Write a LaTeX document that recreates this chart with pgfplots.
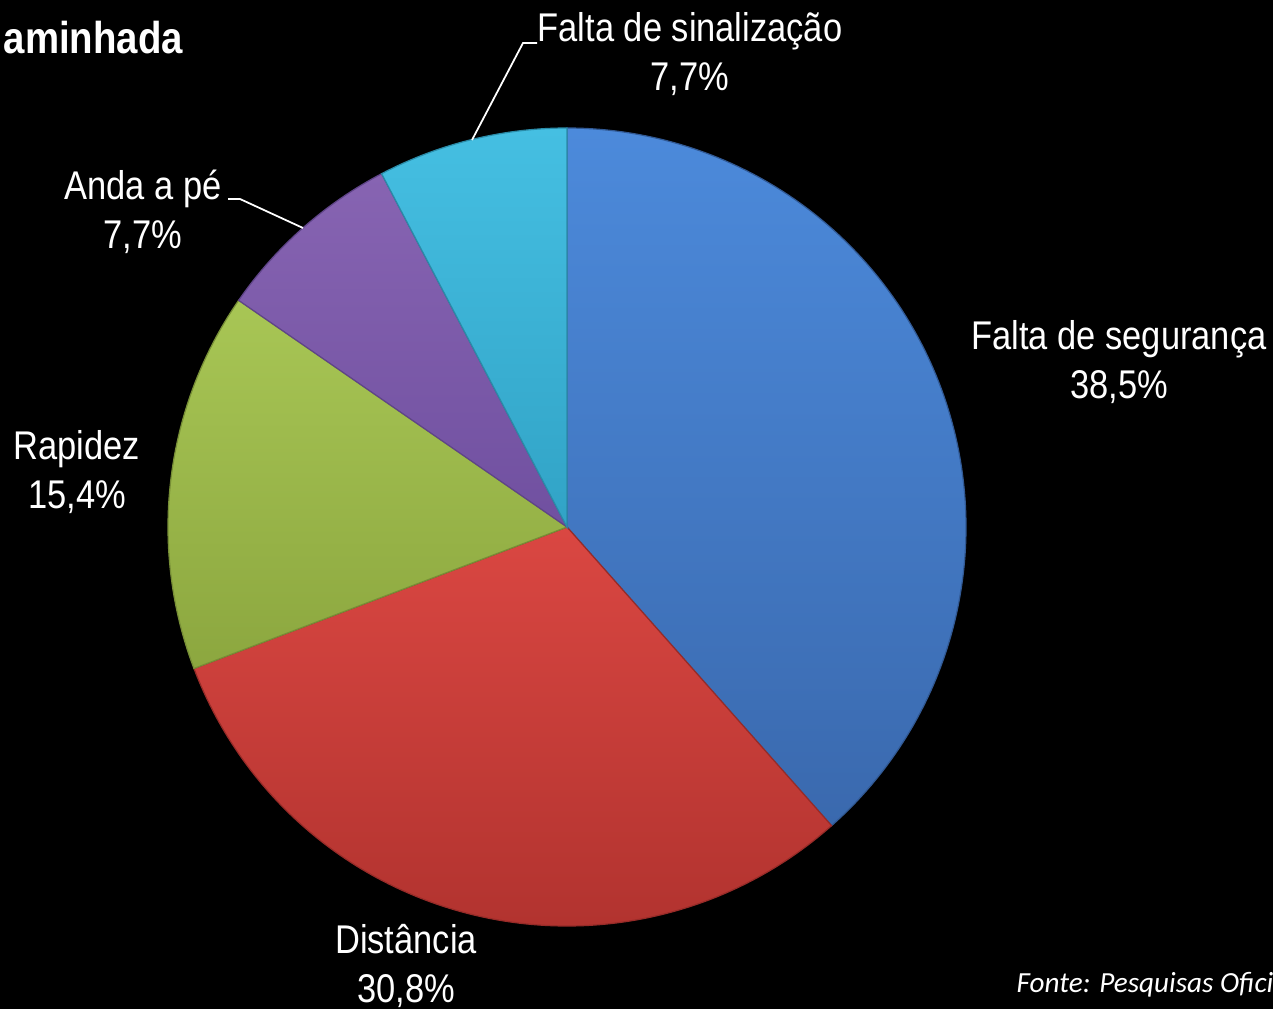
\documentclass[border=0pt]{standalone}
\usepackage{pgfplots}
\pgfplotsset{compat=1.18}
\usepackage{fontspec}
\setmainfont{Liberation Sans}[FakeStretch=0.86]
\newfontfamily\calib{Carlito}

\definecolor{segTop}{HTML}{4C8ADB}\definecolor{segBot}{HTML}{3A69AE}
\definecolor{disTop}{HTML}{DA4742}\definecolor{disBot}{HTML}{B2332F}
\definecolor{rapTop}{HTML}{A8C655}\definecolor{rapBot}{HTML}{8CA73F}
\definecolor{andTop}{HTML}{8764B2}\definecolor{andBot}{HTML}{7050A0}
\definecolor{sinTop}{HTML}{45BFE2}\definecolor{sinBot}{HTML}{31A3C6}

\tikzset{lbl/.style={text=white, align=center, inner sep=0pt, font=\fontsize{11.4}{13.9}\selectfont}}

% shares (%), clockwise from 12 o'clock
\def\vSeg{38.5}\def\vDis{30.8}\def\vRap{15.4}\def\vAnd{7.7}\def\vSin{7.7}
\pgfmathsetmacro\k{360/(\vSeg+\vDis+\vRap+\vAnd+\vSin)}
\pgfmathsetmacro\aA{90}
\pgfmathsetmacro\aB{\aA-\k*\vSeg}
\pgfmathsetmacro\aC{\aB-\k*\vDis}
\pgfmathsetmacro\aD{\aC-\k*\vRap}
\pgfmathsetmacro\aE{\aD-\k*\vAnd}
\pgfmathsetmacro\aF{\aE-\k*\vSin}

\begin{document}
\begin{tikzpicture}
\clip (0,0) rectangle (12.73cm,10.09cm);
\fill[black] (0,0) rectangle (12.73cm,10.09cm);
\begin{axis}[
  at={(0,0)}, anchor=origin,
  x=0.1mm, y=0.1mm,
  xmin=0, xmax=1273, ymin=0, ymax=1009,
  hide axis, clip=false,
  every axis plot/.append style={samples=120, variable=\t, line width=0.35pt},
]
\addplot[domain=\aB:\aA, top color=segTop, bottom color=segBot, draw=segBot!85!black]
  ({567+399*cos(\t)},{482+399*sin(\t)}) -- (567,482) -- cycle;
\addplot[domain=\aC:\aB, top color=disTop, bottom color=disBot, draw=disBot!85!black]
  ({567+399*cos(\t)},{482+399*sin(\t)}) -- (567,482) -- cycle;
\addplot[domain=\aD:\aC, top color=rapTop, bottom color=rapBot, draw=rapBot!85!black]
  ({567+399*cos(\t)},{482+399*sin(\t)}) -- (567,482) -- cycle;
\addplot[domain=\aE:\aD, top color=andTop, bottom color=andBot, draw=andBot!85!black]
  ({567+399*cos(\t)},{482+399*sin(\t)}) -- (567,482) -- cycle;
\addplot[domain=\aF:\aE, top color=sinTop, bottom color=sinBot, draw=sinBot!85!black]
  ({567+399*cos(\t)},{482+399*sin(\t)}) -- (567,482) -- cycle;

% leader lines
\draw[white, line width=0.5pt] (537,966) -- (523,966) -- (472,869);
\draw[white, line width=0.5pt] (228,810) -- (240,810) -- (303,781);

% labels
\node[lbl] at (690,955) {Falta de sinalização\\7,7\%};
\node[lbl] at (143,797) {Anda a pé\\7,7\%};
\node[lbl] at (1119,647) {Falta de segurança\\38,5\%};
\node[lbl] at (77,537) {Rapidez\\15,4\%};
\node[lbl] at (406,43) {Distância\\30,8\%};
\node[text=white, anchor=west, inner sep=0pt, font=\fontsize{12.7}{15}\selectfont\bfseries] at (3,971) {aminhada};
\node[text=white, anchor=west, inner sep=0pt, font=\calib\itshape\fontsize{8.3}{10}\selectfont] at (1016,24) {Fonte: Pesquisas Ofici};
\end{axis}
\end{tikzpicture}
\end{document}
